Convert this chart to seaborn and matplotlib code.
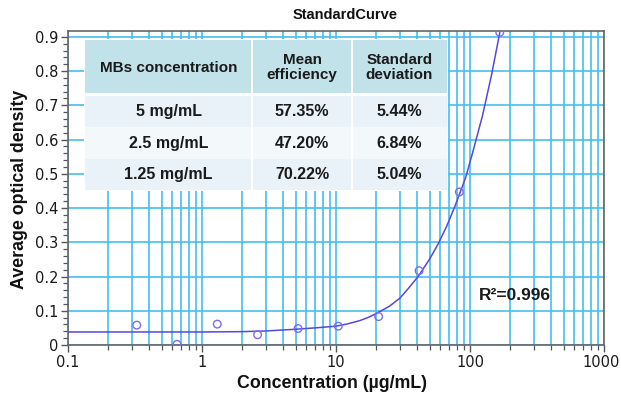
import numpy as np
import pandas as pd
import matplotlib
matplotlib.use("Agg")
import matplotlib.pyplot as plt
import matplotlib.transforms as mtransforms
import seaborn as sns
from matplotlib.patches import Rectangle
from matplotlib.ticker import FixedLocator, FixedFormatter, MultipleLocator

# ---------------- data ----------------
conc = [0.326, 0.651, 1.30, 2.60, 5.21, 10.4, 20.8, 41.7, 83.3, 166.7]
od = [0.058, 0.002, 0.061, 0.030, 0.048, 0.055, 0.083, 0.217, 0.447, 0.913]

curve_x = [0.1, 0.3, 1, 2, 3, 5, 7, 10, 12, 15, 17.5, 20, 25, 30, 35, 41,
           50, 58, 67, 77, 93, 106, 124, 145, 167]
curve_y = [0.038, 0.038, 0.038, 0.039, 0.041, 0.046, 0.050, 0.055, 0.061,
           0.071, 0.081, 0.092, 0.113, 0.137, 0.167, 0.200,
           0.251, 0.296, 0.347, 0.404, 0.490, 0.570, 0.670, 0.790, 0.913]

x_ticks = [0.1, 1, 10, 100, 1000]
x_ticklabels = ["0.1", "1", "10", "100", "1000"]
y_ticks = [0, 0.1, 0.2, 0.3, 0.4, 0.5, 0.6, 0.7, 0.8, 0.9]
y_ticklabels = ["0", "0.1", "0.2", "0.3", "0.4", "0.5", "0.6", "0.7", "0.8", "0.9"]

headers = ["MBs concentration", "Mean\nefficiency", "Standard\ndeviation"]
mbs = ["5 mg/mL", "2.5 mg/mL", "1.25 mg/mL"]
mean_eff = ["57.35%", "47.20%", "70.22%"]
std_dev = ["5.44%", "6.84%", "5.04%"]

title = "StandardCurve"
xlabel = "Concentration (µg/mL)"
ylabel = "Average optical density"
r2_text = "R²=0.996"

# ---------------- figure ----------------
sns.set_theme(style="white")
plt.rcParams["font.family"] = ["Liberation Sans", "DejaVu Sans"]

W, H = 621, 396
fig = plt.figure(figsize=(W / 100, H / 100), dpi=100)

def fx(px):
    return px / W

def fy(py):
    return 1 - py / H

ax_l, ax_r, ax_t, ax_b = 68, 604, 31, 345
ax = fig.add_axes([fx(ax_l), fy(ax_b), fx(ax_r - ax_l), (ax_b - ax_t) / H])

grid_c = "#45BFEC"
curve_c = "#5548DC"
point_c = "#7E6CF0"

df_pts = pd.DataFrame({"conc": conc, "od": od})
df_curve = pd.DataFrame({"x": curve_x, "y": curve_y})

sns.lineplot(data=df_curve, x="x", y="y", ax=ax, color=curve_c, lw=1.1,
             zorder=4, sort=False)
sns.scatterplot(data=df_pts, x="conc", y="od", ax=ax, marker="o", s=30,
                facecolor="none", edgecolor=point_c, linewidth=1.0, zorder=5)

ax.set_xscale("log")
ax.set_xlim(0.1, 1000)
ax.set_ylim(0, 0.917)
ax.set_xlabel("")
ax.set_ylabel("")

ax.xaxis.set_major_locator(FixedLocator(x_ticks))
ax.xaxis.set_major_formatter(FixedFormatter(x_ticklabels))
minor = [m * d for d in [0.1, 1, 10, 100] for m in range(2, 10)]
ax.xaxis.set_minor_locator(FixedLocator(minor))
ax.xaxis.set_minor_formatter(FixedFormatter([""] * len(minor)))

ax.yaxis.set_major_locator(FixedLocator(y_ticks))
ax.yaxis.set_major_formatter(FixedFormatter(y_ticklabels))
ax.yaxis.set_minor_locator(MultipleLocator(0.02))

ax.set_axisbelow(True)
ax.grid(True, which="major", axis="both", color=grid_c, lw=1.2)
ax.grid(True, which="minor", axis="x", color=grid_c, lw=1.2)

for sp in ax.spines.values():
    sp.set_color("#666666")
    sp.set_linewidth(1.2)
    sp.set_visible(True)

ax.tick_params(axis="both", which="major", direction="out", length=5,
               width=1.0, color="#555555", labelsize=10.5, labelcolor="#1a1a1a",
               pad=2)
ax.tick_params(axis="both", which="minor", direction="out", length=3.5,
               width=0.9, color="#555555")
ax.tick_params(axis="x", which="both", bottom=True)
ax.tick_params(axis="y", which="both", left=True)
for lab in ax.get_xticklabels() + ax.get_yticklabels():
    lab.set_family("DejaVu Sans")

# keep the last x tick label ("1000") inside the canvas
last_lab = ax.get_xticklabels()[-1]
last_lab.set_transform(last_lab.get_transform() +
                       mtransforms.ScaledTranslation(-3 / 100, 0, fig.dpi_scale_trans))

# ---------------- table overlay ----------------
col_edges = [85, 252, 352, 447]
row_edges = [96, 127, 159, 190]
head_top, head_bot = 40, 93
head_c = "#C2E2EA"
row_cs = ["#E8F2F8", "#F3F8FB", "#E8F2F8"]

def add_rect(x0, y0, x1, y1, color, z):
    ax.add_patch(Rectangle((fx(x0), fy(y1)), fx(x1 - x0), (y1 - y0) / H,
                           transform=fig.transFigure, facecolor=color,
                           edgecolor="none", zorder=z, clip_on=False))

add_rect(col_edges[0] - 1, head_top - 1, col_edges[-1] + 1, row_edges[-1] + 1,
         "white", 2.6)
for ci in range(3):
    x0 = col_edges[ci] + (1 if ci > 0 else 0)
    x1 = col_edges[ci + 1] - (1 if ci < 2 else 0)
    add_rect(x0, head_top, x1, head_bot, head_c, 2.7)
    for ri in range(3):
        add_rect(x0, row_edges[ri], x1, row_edges[ri + 1], row_cs[ri], 2.7)

cols = [mbs, mean_eff, std_dev]
for ci in range(3):
    cx = (col_edges[ci] + col_edges[ci + 1]) / 2
    ax.text(fx(cx), fy((head_top + head_bot) / 2 + 1), headers[ci],
            transform=fig.transFigure, ha="center", va="center",
            fontsize=11, fontweight="bold", color="#1a1a1a", zorder=3,
            linespacing=1.1)
    for ri in range(3):
        cy = (row_edges[ri] + row_edges[ri + 1]) / 2
        ax.text(fx(cx), fy(cy), cols[ci][ri], transform=fig.transFigure,
                ha="center", va="center", fontsize=11.5, fontweight="bold",
                color="#1a1a1a", zorder=3)

# ---------------- labels ----------------
fig.text(fx(345), fy(15), title, ha="center", va="center", fontsize=10.5,
         fontweight="bold", color="#111111")
fig.text(fx(332), fy(384), xlabel, ha="center", va="center", fontsize=12.8,
         fontweight="bold", color="#111111")
fig.text(fx(19.5), fy(189), ylabel, ha="center", va="center", rotation=90,
         fontsize=12.8, fontweight="bold", color="#111111")
fig.text(fx(515), fy(296), r2_text, ha="center", va="center", fontsize=12.5,
         fontweight="bold", color="#1a1a1a")

fig.savefig("out.png", dpi=100, facecolor="white")
